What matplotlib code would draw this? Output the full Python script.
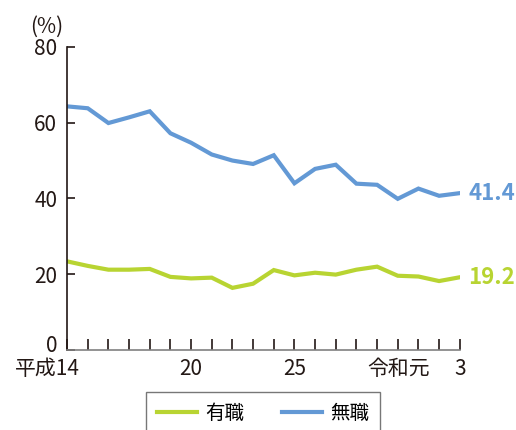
import numpy as np
import matplotlib
matplotlib.use('Agg')
import matplotlib.pyplot as plt
import matplotlib.transforms as mtransforms

plt.rcParams['font.family'] = ['Noto Sans CJK JP', 'DejaVu Sans']

# Data: 平成14 (2002) .. 令和3 (2021)
years = list(range(2002, 2022))
employed = [23.4, 22.2, 21.2, 21.2, 21.4, 19.3, 18.9, 19.1, 16.4, 17.5,
            21.1, 19.7, 20.4, 19.9, 21.2, 22.0, 19.6, 19.4, 18.2, 19.2]
unemployed = [64.3, 63.8, 59.9, 61.4, 63.0, 57.2, 54.7, 51.6, 50.0, 49.1,
              51.4, 44.0, 47.8, 48.9, 43.9, 43.6, 39.9, 42.6, 40.7, 41.4]
tick_years = [2002, 2008, 2013, 2019, 2021]
tick_labels = ['平成14', '20', '25', '令和元', '3']

green = '#b8d432'
blue = '#6399d5'
text_color = '#231815'

fig = plt.figure(figsize=(5.16, 4.30), dpi=100)
ax = fig.add_axes([0.130, 0.186, 0.761, 0.705])

ax.plot(years, employed, color=green, lw=3, solid_joinstyle='miter', label='有職')
ax.plot(years, unemployed, color=blue, lw=3, solid_joinstyle='miter', label='無職')

ax.set_xlim(years[0], years[-1])
ax.set_ylim(0, 80)
ax.set_yticks([0, 20, 40, 60, 80])
ax.set_xticks(tick_years)
ax.set_xticklabels(tick_labels)
ax.set_xticks(years, minor=True)

for s in ['top', 'right']:
    ax.spines[s].set_visible(False)
ax.spines['left'].set_color(text_color)
ax.spines['left'].set_linewidth(1.2)
ax.spines['bottom'].set_color('#808080')
ax.spines['bottom'].set_linewidth(1.2)

ax.tick_params(axis='y', direction='in', length=6, width=1.2, colors=text_color,
               labelsize=15, pad=7)
ax.tick_params(axis='x', which='both', direction='in', length=8, width=1.2,
               colors=text_color, labelsize=15, pad=6)


def shift(label, dx, dy):
    label.set_transform(label.get_transform() +
                        mtransforms.ScaledTranslation(dx / 100, dy / 100,
                                                      fig.dpi_scale_trans))


# first x label: "14" centred on the tick, "平成" hanging to the left
xlabels = ax.get_xticklabels()
xlabels[0].set_ha('right')
shift(xlabels[0], 13, 0)
# 令和元 nudged left to leave room for "3"
shift(xlabels[3], -20, 0)
# "0" sits slightly above the baseline
shift(ax.get_yticklabels()[0], 0, 7)

ax.text(-0.01, 1.03, '(%)', transform=ax.transAxes, ha='right', va='bottom',
        fontsize=15, color=text_color)

# end labels
ax.annotate(f'{unemployed[-1]}', xy=(years[-1], unemployed[-1]), xytext=(6, 0),
            textcoords='offset points', ha='left', va='center', fontsize=16,
            fontweight='bold', color=blue, annotation_clip=False)
ax.annotate(f'{employed[-1]}', xy=(years[-1], employed[-1]), xytext=(6, 0),
            textcoords='offset points', ha='left', va='center', fontsize=16,
            fontweight='bold', color=green, annotation_clip=False)

leg = fig.legend(loc='upper center', bbox_to_anchor=(0.510, 0.088), ncol=2,
                 fontsize=14, frameon=True, fancybox=False, handlelength=2.06,
                 columnspacing=1.9, borderpad=0.55, handletextpad=0.45,
                 borderaxespad=0)
leg.get_frame().set_edgecolor('#555555')
leg.get_frame().set_linewidth(1.0)

fig.savefig('out.png', dpi=100)
